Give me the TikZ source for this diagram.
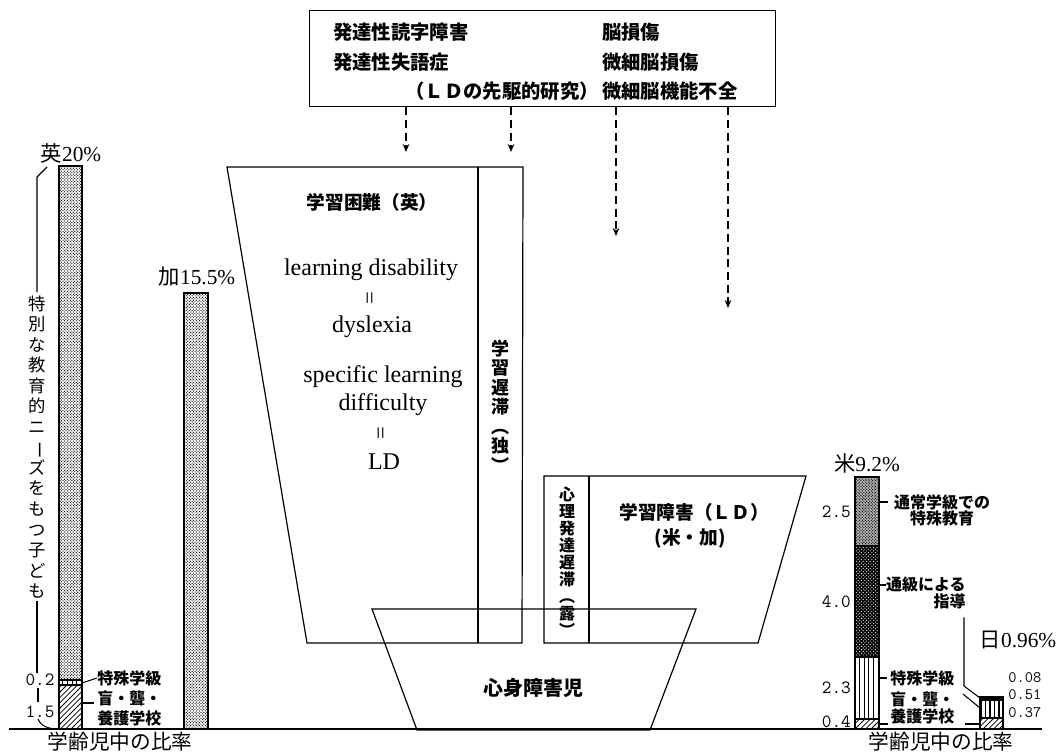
\documentclass[tikz,border=0pt]{standalone}
\usepackage{fontspec}
\newfontfamily\jp{Noto Sans CJK JP}
\newfontfamily\ser{Liberation Serif}
\usetikzlibrary{patterns,arrows.meta}
\pgfdeclarepatternformonly{fdots}{\pgfqpoint{-1pt}{-1pt}}{\pgfqpoint{3pt}{3pt}}{\pgfqpoint{2.2pt}{2.2pt}}{%
  \pgfpathcircle{\pgfqpoint{0pt}{0pt}}{0.48pt}%
  \pgfpathcircle{\pgfqpoint{1.1pt}{1.1pt}}{0.48pt}%
  \pgfusepath{fill}}
\pgfdeclarepatternformonly{sdots}{\pgfqpoint{-1pt}{-1pt}}{\pgfqpoint{3.5pt}{3.5pt}}{\pgfqpoint{2.6pt}{2.6pt}}{%
  \pgfpathcircle{\pgfqpoint{0pt}{0pt}}{0.45pt}%
  \pgfpathcircle{\pgfqpoint{1.3pt}{1.3pt}}{0.45pt}%
  \pgfusepath{fill}}
\pgfdeclarepatternformonly{hatch}{\pgfqpoint{-1pt}{-1pt}}{\pgfqpoint{5pt}{5pt}}{\pgfqpoint{4pt}{4pt}}{%
  \pgfsetlinewidth{0.55pt}%
  \pgfpathmoveto{\pgfqpoint{-0.1pt}{-0.1pt}}\pgfpathlineto{\pgfqpoint{4.1pt}{4.1pt}}%
  \pgfusepath{stroke}}
\pgfdeclarepatternformonly{vstripe}{\pgfqpoint{-1pt}{-1pt}}{\pgfqpoint{4pt}{4pt}}{\pgfqpoint{3.6pt}{3.6pt}}{%
  \pgfsetlinewidth{0.6pt}%
  \pgfpathmoveto{\pgfqpoint{0pt}{-0.1pt}}\pgfpathlineto{\pgfqpoint{0pt}{3.7pt}}%
  \pgfusepath{stroke}}
\pgfdeclarepatternformonly{vstripeb}{\pgfqpoint{-1pt}{-1pt}}{\pgfqpoint{4pt}{4pt}}{\pgfqpoint{3.3pt}{3.3pt}}{%
  \pgfsetlinewidth{1.1pt}%
  \pgfpathmoveto{\pgfqpoint{0pt}{-0.1pt}}\pgfpathlineto{\pgfqpoint{0pt}{3.4pt}}%
  \pgfusepath{stroke}}
\begin{document}
\begin{tikzpicture}[x=0.75pt,y=-0.75pt,
  ln/.style={line width=0.9pt},
  jpb/.style={font=\jp\bfseries\fontsize{14.5}{17}\selectfont, inner sep=0pt},
  jpm/.style={font=\jp\bfseries\fontsize{14}{17}\selectfont, inner sep=0pt},
  jps/.style={font=\jp\bfseries\fontsize{12}{12}\selectfont, inner sep=0pt},
  jpt/.style={font=\jp\bfseries\fontsize{12}{12.75}\selectfont, inner sep=0pt},
  en/.style={font=\ser\fontsize{18}{20}\selectfont, inner sep=0pt},
  eq/.style={font=\ser\fontsize{17}{17}\selectfont, inner sep=0pt, rotate=90},
  num/.style={font=\ttfamily\fontsize{14}{14}\selectfont, inner sep=0pt},
  nums/.style={font=\ttfamily\fontsize{12}{12}\selectfont, inner sep=0pt},
  pct/.style={font=\ser\fontsize{16}{16}\selectfont, inner sep=0pt},
  axl/.style={font=\jp\fontsize{15.5}{16}\selectfont, inner sep=0pt},
  vt/.style={align=center, inner sep=0pt},
  darr/.style={line width=0.9pt, dash pattern=on 6pt off 3.5pt, -{Stealth[length=6pt,width=5pt]}},
  lead/.style={line width=0.8pt}
]
\useasboundingbox (0,0) rectangle (1063,752);

% ---------- top box ----------
\node[draw, ln, anchor=north west, minimum width=349.5pt, minimum height=72pt, inner sep=0pt] (topbox) at (309,10) {};
\node[jpb, anchor=west] (t1) at (333,32) {発達性読字障害};
\node[jpb, anchor=west] (t2) at (333,62) {発達性失語症};
\node[jpb] (t3) at (502,91) {（ＬＤの先駆的研究）};
\node[jpb, anchor=west] (t4) at (602,32) {脳損傷};
\node[jpb, anchor=west] (t5) at (602,62) {微細脳損傷};
\node[jpb, anchor=west] (t6) at (602,91) {微細脳機能不全};

% ---------- dashed arrows ----------
\coordinate (e1) at (406,152);
\coordinate (e2) at (511,152);
\coordinate (e3) at (616,236);
\coordinate (e4) at (728,308);
\draw[darr] (topbox.south -| e1) -- (e1);
\draw[darr] (topbox.south -| e2) -- (e2);
\draw[darr] (topbox.south -| e3) -- (e3);
\draw[darr] (topbox.south -| e4) -- (e4);

% ---------- big trapezoid (学習困難) ----------
\draw[ln] (227,167) -- (523,167) -- (522,643) -- (307,643) -- cycle;
\draw[ln] (478,167) -- (478,643);
\node[jpm] (gk) at (372,202) {学習困難（英）};
\node[en] (ld1) at (371,270) {learning disability};
\node[eq] (q1) at (372,298) {=};
\node[en] (ld2) at (372,327) {dyslexia};
\node[en] (ld3) at (383,377) {specific learning};
\node[en] (ld4) at (383,405) {difficulty};
\node[eq] (q2) at (383,433) {=};
\node[en] (ld5) at (384,462) {LD};
\node[vt, font=\jp\bfseries\fontsize{13.5}{14.6}\selectfont] (gc) at (500,406) {学\\習\\遅\\滞\\︵\\独\\︶};

% ---------- LD trapezoid ----------
\draw[ln] (544,476) -- (806,476) -- (758,643) -- (544,643) -- cycle;
\draw[ln] (589,476) -- (589,643);
\node[jpm] (gs) at (694,512) {学習障害（ＬＤ）};
\node[jpm] (gs2) at (690,538) {(米・加)};
\node[vt, font=\jp\bfseries\fontsize{12}{12.75}\selectfont] (sr) at (567,562) {心\\理\\発\\達\\遅\\滞\\︵\\露\\︶};

% ---------- 心身障害児 ----------
\draw[ln] (372,609) -- (696,609) -- (650,730) -- (417,730) -- cycle;
\node[font=\jp\bfseries\fontsize{15}{17}\selectfont, inner sep=0pt] (ss) at (533,688) {心身障害児};

% ---------- axis ----------
\draw[line width=1.3pt] (9,729) -- (1042,729);
\node[axl] (axL) at (120,742) {学齢児中の比率};
\node[axl] (axR) at (941,742) {学齢児中の比率};

% ---------- UK bar ----------
\fill[pattern=fdots] (59,166) rectangle (82,680);
\fill[pattern=vstripe] (59,680) rectangle (82,685);
\fill[pattern=hatch] (59,685) rectangle (82,729);
\draw[ln] (59,729) -- (59,166) -- (82,166) -- (82,729);
\draw[ln] (59,680) -- (82,680) (59,685) -- (82,685);
\node[pct] (uk) at (71,153) {{\jp 英}20\%};

% bracket + vertical label
\draw[lead] (47,167) -- (37,177) -- (37,292);
\node[vt, font=\jp\fontsize{13}{15.4}\selectfont] (needs) at (37,447) {特\\別\\な\\教\\育\\的\\ニ\\\rotatebox[origin=c]{-90}{ー}\\ズ\\を\\も\\つ\\子\\ど\\も};
\draw[lead] (37,601) -- (37,673);
\draw[lead] (38,688) -- (38,702);
\draw[lead] (38,719) .. controls (41,726) and (48,729) .. (58,729);
\node[num] (u02) at (40,680) {0.2};
\node[num] (u15) at (40,712) {1.5};
\node[jps, anchor=west] (ukc) at (97,678) {特殊学級};
\node[jps, anchor=west] (uks1) at (97,698) {盲・聾・};
\node[jps, anchor=west] (uks2) at (97,718) {養護学校};
\draw[lead] (82,683) -- (ukc.west);
\draw[lead] (82,703) -- (94,703);

% ---------- Canada bar ----------
\fill[pattern=fdots] (184,293) rectangle (208,729);
\draw[ln] (184,729) -- (184,293) -- (208,293) -- (208,729);
\node[pct] (ca) at (197,277) {{\jp 加}15.5\%};

% ---------- US bar ----------
\fill[black!30] (855,477) rectangle (879,546);
\fill[pattern=fdots] (855,477) rectangle (879,546);
\fill[black] (855,546) rectangle (879,657);
\fill[pattern=sdots, pattern color=white] (855,546) rectangle (879,657);
\fill[pattern=vstripe] (855,657) rectangle (879,719);
\fill[pattern=hatch] (855,719) rectangle (879,729);
\draw[ln] (855,729) -- (855,477) -- (879,477) -- (879,729);
\draw[ln] (855,546) -- (879,546) (855,657) -- (879,657) (855,719) -- (879,719);
\node[pct] (us) at (867,463) {{\jp 米}9.2\%};
\node[num, anchor=east] (n25) at (851,512) {2.5};
\node[num, anchor=east] (n40) at (851,602) {4.0};
\node[num, anchor=east] (n23) at (851,688) {2.3};
\node[num, anchor=east] (n04) at (851,722) {0.4};
\node[jps, align=center] (ntj) at (942,510) {通常学級での\\特殊教育};
\node[jpt, align=right, anchor=east] (tky) at (966,593) {通級による\\指導};
\node[jps, anchor=west] (usc) at (890,678) {特殊学級};
\node[jps, anchor=west] (uss1) at (890,699) {盲・聾・};
\node[jps, anchor=west] (uss2) at (890,716) {養護学校};
\draw[lead] (879,502) -- (888,502);
\draw[lead] (879,585) -- (886,585);
\draw[lead] (879,678) -- (887,678);
\draw[lead] (879,724) -- (888,724);

% ---------- Japan bar ----------
\fill[black] (980,697) rectangle (1003,701);
\fill[pattern=vstripeb] (980,701) rectangle (1003,718);
\fill[pattern=hatch] (980,718) rectangle (1003,729);
\draw[ln] (980,729) -- (980,697) -- (1003,697) -- (1003,729);
\draw[ln] (980,718) -- (1003,718);
\node[pct] (jpn) at (1018,640) {{\jp 日}0.96\%};
\node[nums, anchor=west] (j1) at (1008,678) {0.08};
\node[nums, anchor=west] (j2) at (1008,695) {0.51};
\node[nums, anchor=west] (j3) at (1008,713) {0.37};
\coordinate (jb1) at (980,698);
\coordinate (jb2) at (980,708);
\coordinate (jb3) at (980,724);
\draw[lead] (tky.south east) ++(-2,8) -- (964,686) -- (jb1);
\draw[lead] (963,694) -- (jb2);
\draw[lead] (965,724) -- (jb3);
\end{tikzpicture}
\end{document}
